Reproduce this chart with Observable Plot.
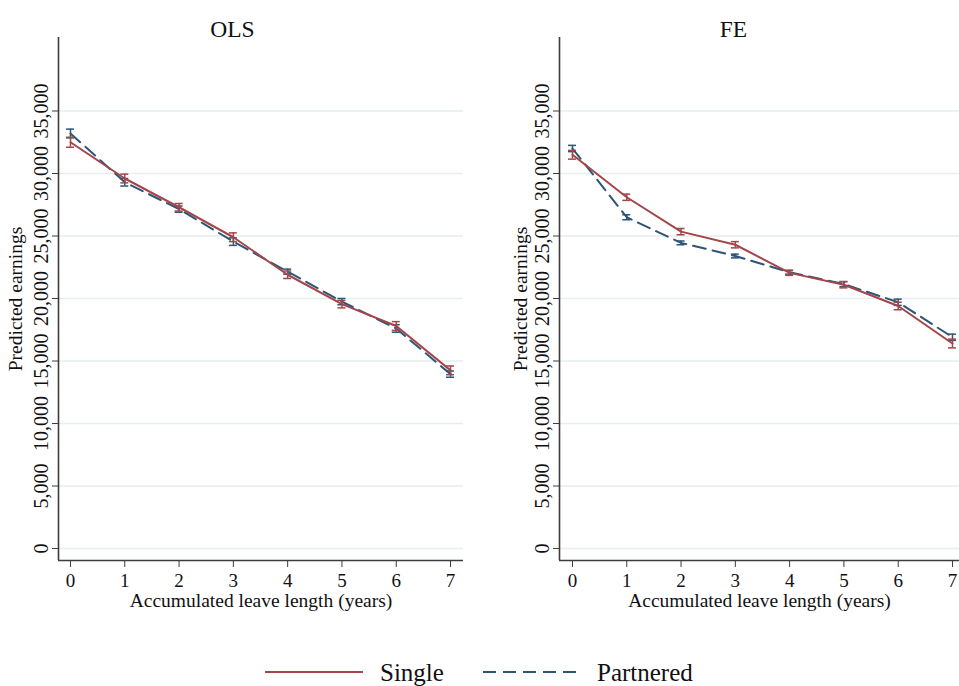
<!DOCTYPE html>
<html><head><meta charset="utf-8">
<script src="https://cdn.jsdelivr.net/npm/d3@7"></script>
<script src="https://cdn.jsdelivr.net/npm/@observablehq/plot@0.6"></script>
<style>
body{margin:0;background:#fff;}
#wrap{position:relative;width:959px;height:686px;overflow:hidden;font-family:"Liberation Serif","Times New Roman",serif;}
#left,#right{position:absolute;top:0;}
#left{left:0}
#right{left:480px}
#legend{position:absolute;left:0;top:646px;width:959px;height:40px;}
</style></head><body>
<div id="wrap"><div id="left"></div><div id="right"></div><div id="legend"></div></div>
<script>
// ---- data ----
const years = [0, 1, 2, 3, 4, 5, 6, 7];
const seriesNames = ["Single", "Partnered"];
const olsSingle    = [32500, 29600, 27300, 24900, 21900, 19550, 17800, 14250];
const olsPartnered = [33200, 29300, 27150, 24550, 22150, 19750, 17600, 13950];
const olsSingleCI    = [400, 350, 300, 350, 300, 300, 350, 350];
const olsPartneredCI = [350, 300, 250, 300, 200, 250, 300, 250];
const feSingle    = [31500, 28100, 25350, 24300, 22050, 21100, 19400, 16400];
const fePartnered = [32000, 26500, 24450, 23400, 22100, 21150, 19700, 16900];
const feSingleCI    = [350, 250, 250, 250, 200, 250, 300, 350];
const fePartneredCI = [250, 200, 150, 150, 150, 200, 250, 250];
const yTicks = [0, 5000, 10000, 15000, 20000, 25000, 30000, 35000];
const panelTitles = ["OLS", "FE"];
const xTitle = "Accumulated leave length (years)";
const yTitle = "Predicted earnings";

const RED = "#a3464a", BLUE = "#2c5577", GRID = "#e6eeee", AXIS = "#3c3c3c";
const DASH = "13,7";
const FONT = "'Liberation Serif','Times New Roman',serif";

function rows(vals, cis, series) {
  return years.map((x, i) => ({x, y: vals[i], lo: vals[i] - cis[i], hi: vals[i] + cis[i], series}));
}

function panel(el, opt) {
  const s = rows(opt.single, opt.singleCI, seriesNames[0]);
  const p = rows(opt.partnered, opt.partneredCI, seriesNames[1]);
  const capHalf = 4 / opt.pxPerUnit;
  const yDomain = [-960, 40880];
  const capMarks = (data, color) => [
    Plot.ruleX(data, {x: "x", y1: "lo", y2: "hi", stroke: color, strokeWidth: 1.5}),
    Plot.ruleY(data, {y: "hi", x1: d => d.x - capHalf, x2: d => d.x + capHalf, stroke: color, strokeWidth: 1.5}),
    Plot.ruleY(data, {y: "lo", x1: d => d.x - capHalf, x2: d => d.x + capHalf, stroke: color, strokeWidth: 1.5})
  ];
  const chart = Plot.plot({
    width: opt.width, height: 620,
    marginLeft: opt.ml, marginRight: opt.mr, marginTop: 37, marginBottom: 60,
    style: {fontFamily: FONT, fontSize: "20px", color: "#111", background: "transparent"},
    x: {domain: opt.xDomain, axis: null},
    y: {domain: yDomain, axis: null},
    marks: [
      Plot.gridY(yTicks, {stroke: GRID, strokeOpacity: 1, strokeWidth: 1.5}),
      Plot.ruleX([opt.xDomain[0]], {stroke: AXIS, strokeWidth: 1.6}),
      Plot.ruleY([yDomain[0]], {stroke: AXIS, strokeWidth: 1.6}),
      Plot.axisY({ticks: yTicks, tickFormat: d3.format(","), tickRotate: -90, tickSize: 6, tickPadding: 5, stroke: AXIS, label: null, fontSize: 20}),
      Plot.axisX({ticks: years, tickFormat: d => String(d), tickSize: 7, tickPadding: 6, stroke: AXIS, label: null, fontSize: 19, anchor: "bottom"}),
      Plot.text([xTitle], {frameAnchor: "bottom", dx: opt.xTitleDx, dy: 46, fontSize: 19.5, fill: "#111"}),
      Plot.text([yTitle], {frameAnchor: "left", dx: opt.yTitleDx, rotate: -90, textAnchor: "middle", fontSize: 19.5, fill: "#111"}),
      Plot.text([opt.title], {frameAnchor: "top-left", dx: opt.titleDx, dy: -17, textAnchor: "middle", fontSize: 23.5, fill: "#111"}),
      Plot.line(p, {x: "x", y: "y", stroke: BLUE, strokeWidth: 2, strokeDasharray: DASH}),
      ...capMarks(p, BLUE),
      Plot.line(s, {x: "x", y: "y", stroke: RED, strokeWidth: 2}),
      ...capMarks(s, RED)
    ]
  });
  el.appendChild(chart);
}

panel(document.getElementById("left"), {
  width: 480, ml: 58, mr: 17, xDomain: [-0.221, 7.239], pxPerUnit: 54.29,
  single: olsSingle, partnered: olsPartnered, singleCI: olsSingleCI, partneredCI: olsPartneredCI,
  title: panelTitles[0], titleDx: 174, xTitleDx: 0, yTitleDx: -43
});
panel(document.getElementById("right"), {
  width: 479, ml: 79, mr: 0, xDomain: [-0.239, 7.129], pxPerUnit: 54.29,
  single: feSingle, partnered: fePartnered, singleCI: feSingleCI, partneredCI: fePartneredCI,
  title: panelTitles[1], titleDx: 174, xTitleDx: 0, yTitleDx: -39
});

// ---- legend ----
const lg = d3.select("#legend").append("svg").attr("width", 959).attr("height", 40)
  .style("font-family", FONT);
const items = [
  {name: seriesNames[0], color: RED, dash: null, x1: 265, x2: 363, tx: 380},
  {name: seriesNames[1], color: BLUE, dash: DASH, x1: 483, x2: 580, tx: 597}
];
items.forEach(it => {
  lg.append("line").attr("x1", it.x1).attr("x2", it.x2).attr("y1", 26).attr("y2", 26)
    .attr("stroke", it.color).attr("stroke-width", 2.2).attr("stroke-dasharray", it.dash);
  lg.append("text").attr("x", it.tx).attr("y", 26).attr("dy", "0.35em")
    .attr("font-size", 25).attr("fill", "#111").text(it.name);
});
</script>
</body></html>
